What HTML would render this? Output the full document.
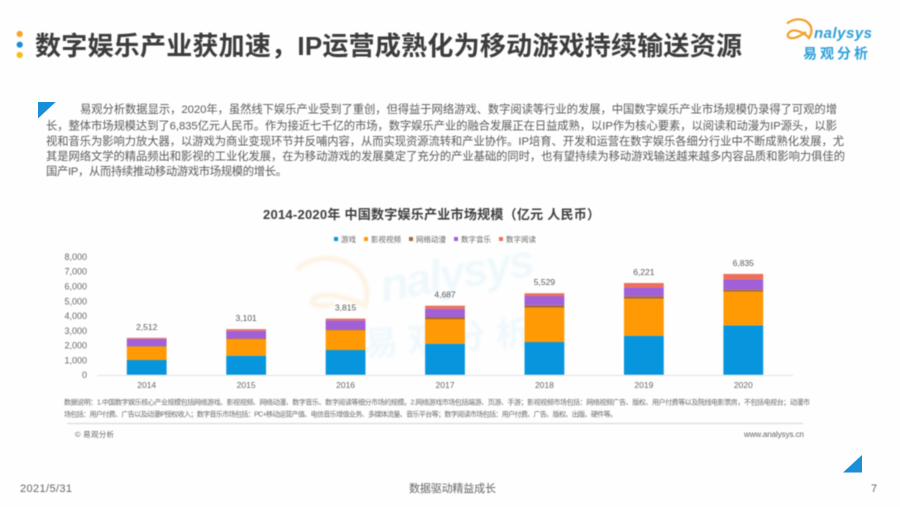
<!DOCTYPE html>
<html lang="zh">
<head>
<meta charset="utf-8">
<title>数字娱乐产业获加速</title>
<style>
html,body{margin:0;padding:0;background:#fff;width:900px;height:507px;overflow:hidden}
svg{display:block;font-family:"Liberation Sans","Noto Sans CJK SC",sans-serif}
.soft{filter:blur(.45px)}
.softer{filter:blur(.6px)}
.wash{filter:blur(1px)}
</style>
</head>
<body>
<svg id="slide" width="900" height="507" viewBox="0 0 900 507" xmlns="http://www.w3.org/2000/svg">
  <rect width="900" height="507" fill="#fefefe"/>

  <g class="soft">
    <circle cx="19.7" cy="34" r="3.1" fill="#f5a623"/>
    <circle cx="19.7" cy="44.7" r="3.1" fill="#1a8fd1"/>
    <circle cx="19.7" cy="55" r="3.1" fill="#f6bd16"/>
  </g>
  <text class="soft" x="35" y="55" font-size="26" font-weight="700" fill="#3c3c3c" textLength="707" lengthAdjust="spacing">数字娱乐产业获加速，IP运营成熟化为移动游戏持续输送资源</text>

  <g class="soft">
    <path d="M787 23.5 C795 17 807 18 811 27 C812 31 811 35 809 38 C805 33 796 29 791 31 C785 35 788 39 794 38 C799 37 803 34 806 32" fill="none" stroke="#f0a02a" stroke-width="2.2"/>
    <text x="814" y="38" font-size="15" font-style="italic" font-weight="700" fill="#2e9fd8" textLength="58" lengthAdjust="spacing">nalysys</text>
    <text x="803" y="58.5" font-size="14" font-weight="700" fill="#2e9fd8" textLength="65" lengthAdjust="spacing">易观分析</text>
  </g>

  <polygon points="38,102 55.7,102 38,118.5" fill="#1a8fd8"/>
  <g class="soft" font-size="11.3" fill="#5a5a5a">
    <text x="80" y="113" textLength="757" lengthAdjust="spacing">易观分析数据显示，2020年，虽然线下娱乐产业受到了重创，但得益于网络游戏、数字阅读等行业的发展，中国数字娱乐产业市场规模仍录得了可观的增</text>
    <text x="46" y="129.5" textLength="791" lengthAdjust="spacing">长，整体市场规模达到了6,835亿元人民币。作为接近七千亿的市场，数字娱乐产业的融合发展正在日益成熟，以IP作为核心要素，以阅读和动漫为IP源头，以影</text>
    <text x="46" y="145" textLength="798" lengthAdjust="spacing">视和音乐为影响力放大器，以游戏为商业变现环节并反哺内容，从而实现资源流转和产业协作。IP培育、开发和运营在数字娱乐各细分行业中不断成熟化发展，尤</text>
    <text x="46" y="160" textLength="799" lengthAdjust="spacing">其是网络文学的精品频出和影视的工业化发展，在为移动游戏的发展奠定了充分的产业基础的同时，也有望持续为移动游戏输送越来越多内容品质和影响力俱佳的</text>
    <text x="46" y="175" textLength="241" lengthAdjust="spacing">国产IP，从而持续推动移动游戏市场规模的增长。</text>
  </g>

  <g class="wash">
    <path d="M297 270 C310 255 345 252 362 276 C368 288 368 298 365 306 C350 298 328 292 316 297 C306 304 318 308 334 304" fill="none" stroke="#fdf4e7" stroke-width="5.5"/>
    <text x="383" y="302" font-size="46" font-style="italic" font-weight="700" fill="#f0f8fc" transform="rotate(-10 383 302)" textLength="156" lengthAdjust="spacing">nalysys</text>
    <text x="365" y="356" font-size="34" font-weight="700" fill="#f0f8fc" transform="rotate(-4 365 356)" textLength="166" lengthAdjust="spacing">易观分析</text>
  </g>

  <text class="soft" x="263" y="219" font-size="13" font-weight="700" fill="#404040" textLength="337" lengthAdjust="spacing">2014-2020年 中国数字娱乐产业市场规模（亿元 人民币）</text>

  <g id="legend" class="softer"></g>
  <g id="y-axis" class="soft"></g>
  <g id="bars" class="soft"></g>
  <g id="x-axis" class="soft"></g>
  <g id="totals" class="soft"></g>

  <g class="softer" font-size="7" fill="#6a6a6a">
    <text x="64" y="404.5" textLength="746" lengthAdjust="spacing">数据说明：1.中国数字娱乐核心产业规模包括网络游戏、影视视频、网络动漫、数字音乐、数字阅读等细分市场的规模。2.网络游戏市场包括端游、页游、手游；影视视频市场包括：网络视频广告、版权、用户付费等以及院线电影票房，不包括电视台；动漫市</text>
    <text x="64" y="416.5" textLength="553" lengthAdjust="spacing">场包括：用户付费、广告以及动漫IP授权收入；数字音乐市场包括：PC+移动运营产值、电信音乐增值业务、多媒体流量、音乐平台等；数字阅读市场包括：用户付费、广告、版权、出版、硬件等。</text>
  </g>
  <line class="soft" x1="67" y1="423.5" x2="803" y2="423.5" stroke="#dcdcdc" stroke-width="1.3"/>
  <text class="soft" x="75" y="437" font-size="7.5" fill="#666" textLength="39" lengthAdjust="spacing">© 易观分析</text>
  <text class="soft" x="744" y="437" font-size="8" fill="#666" textLength="60" lengthAdjust="spacing">www.analysys.cn</text>

  <polygon points="862,455 862,472.5 843,472.5" fill="#1a8fd8"/>
  <g class="soft" font-size="11" fill="#666">
    <text x="20" y="492" textLength="52" lengthAdjust="spacing">2021/5/31</text>
    <text x="409" y="492" textLength="87" lengthAdjust="spacing">数据驱动精益成长</text>
    <text x="871" y="492">7</text>
  </g>
</svg>

<script>
const categories = ['2014', '2015', '2016', '2017', '2018', '2019', '2020'];
const seriesNames = ['游戏', '影视视频', '网络动漫', '数字音乐', '数字阅读'];
const gameValues = [1014, 1307, 1690, 2118, 2230, 2655, 3358];
const videoValues = [902, 1123, 1330, 1642, 2320, 2505, 2272];
const comicValues = [40, 40, 60, 160, 160, 160, 140];
const musicValues = [494, 525, 615, 560, 630, 605, 695];
const readingValues = [62, 106, 120, 207, 189, 296, 370];
const totalLabels = ['2,512', '3,101', '3,815', '4,687', '5,529', '6,221', '6,835'];
const yTickValues = [0, 1000, 2000, 3000, 4000, 5000, 6000, 7000, 8000];
const yTickLabels = ['0', '1,000', '2,000', '3,000', '4,000', '5,000', '6,000', '7,000', '8,000'];

const seriesValues = [gameValues, videoValues, comicValues, musicValues, readingValues];
const seriesColors = ['#0796de', '#ff9a05', '#a8682a', '#a260d8', '#ee6f58'];
const SVG_NS = 'http://www.w3.org/2000/svg';
const plot = { left: 97, right: 793, bottom: 375, top: 256.7, max: 8000 };
const barWidth = 39.8;

function xCenter(i) {
  const band = (plot.right - plot.left) / categories.length;
  return plot.left + band * (i + 0.5);
}
function yPos(v) {
  return plot.bottom - (v / plot.max) * (plot.bottom - plot.top);
}
function make(tag, attrs, parent, text) {
  const el = document.createElementNS(SVG_NS, tag);
  Object.keys(attrs).forEach(function (k) { el.setAttribute(k, attrs[k]); });
  if (text !== undefined) el.textContent = text;
  parent.appendChild(el);
  return el;
}

const yAxis = document.getElementById('y-axis');
const xAxis = document.getElementById('x-axis');
const bars = document.getElementById('bars');
const totals = document.getElementById('totals');
const legend = document.getElementById('legend');

yTickValues.forEach(function (v, i) {
  const t = make('text', { x: 87, y: yPos(v) + 3.2, 'text-anchor': 'end', 'font-size': 9, fill: '#666' }, yAxis, yTickLabels[i]);
  
  
});

const baseline = make('line', { x1: plot.left, x2: plot.right, y1: plot.bottom + 0.5, y2: plot.bottom + 0.5, stroke: '#e2e2e2', 'stroke-width': 1 }, xAxis);



categories.forEach(function (cat, i) {
  const cx = xCenter(i);
  let cum = 0;
  seriesValues.forEach(function (vals, s) {
    const y0 = yPos(cum);
    cum += vals[i];
    const y1 = yPos(cum);
    const r = make('rect', { x: cx - barWidth / 2, y: y1, width: barWidth, height: y0 - y1, fill: seriesColors[s] }, bars);
    
    
  });
  const label = make('text', { x: cx, y: yPos(cum) - 8, 'text-anchor': 'middle', 'font-size': 8.5, fill: '#595959' }, totals, totalLabels[i]);
  
  
  const xl = make('text', { x: cx, y: plot.bottom + 13, 'text-anchor': 'middle', 'font-size': 8.5, fill: '#666' }, xAxis, cat);
  
  
});

const legendStart = [334, 364, 409, 454, 499];
seriesNames.forEach(function (name, s) {
  const swatch = make('rect', { x: legendStart[s], y: 237, width: 4, height: 4, fill: seriesColors[s] }, legend);
  
  
  const txt = make('text', { x: legendStart[s] + 7, y: 242, 'font-size': 7.5, fill: '#666' }, legend, name);
  
  
});
</script>
</body>
</html>
